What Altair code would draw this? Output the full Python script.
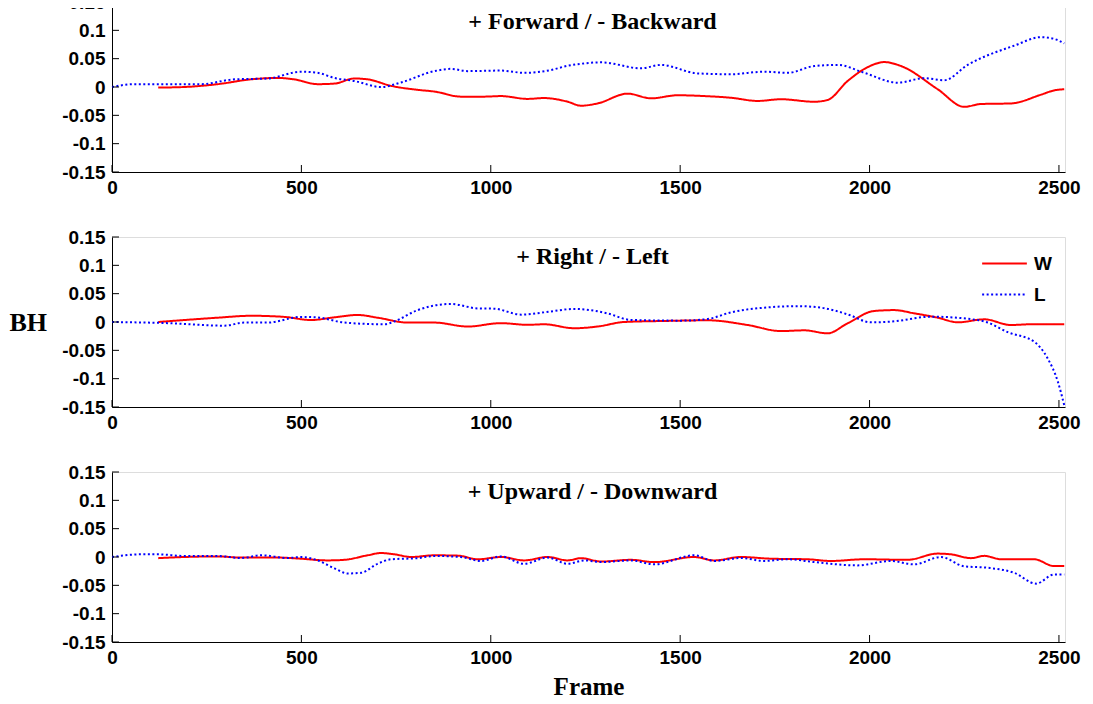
import altair as alt
import pandas as pd

SERIES = ["W", "L"]
COLORS = ["#ff0000", "#0000ff"]
PANEL_TITLES = ["+ Forward / - Backward", "+ Right / - Left", "+ Upward / - Downward"]
X_TICKS = [0, 500, 1000, 1500, 2000, 2500]
Y_TICKS = [-0.15, -0.1, -0.05, 0, 0.05, 0.1, 0.15]
X_MAX = 2516

# Panel 1: Forward / Backward
fb_w_x = [122, 191, 279, 367, 437, 481, 543, 587, 640, 675, 737, 807, 851, 921, 983, 1027, 1097, 1141, 1203, 1238,
          1282, 1361, 1423, 1493, 1573, 1634, 1705, 1766, 1854, 1889, 1942, 1995, 2039, 2083, 2180, 2250, 2294, 2373,
          2453, 2487, 2514]
fb_w_y = [-0.001, 0, 0.005, 0.0135, 0.016, 0.0135, 0.005, 0.006, 0.015, 0.0135, 0.002, -0.005, -0.008, -0.017,
          -0.017, -0.016, -0.021, -0.0195, -0.026, -0.033, -0.029, -0.0117, -0.020, -0.0146, -0.0163, -0.019,
          -0.0246, -0.0216, -0.026, -0.023, 0.0105, 0.035, 0.044, 0.037, -0.004, -0.035, -0.030, -0.029, -0.0135,
          -0.006, -0.004]
fb_l_x = [0, 59, 147, 235, 323, 411, 499, 543, 587, 640, 710, 763, 851, 895, 939, 1027, 1088, 1159, 1203, 1238,
          1291, 1397, 1449, 1546, 1634, 1722, 1784, 1854, 1916, 1986, 2074, 2144, 2197, 2259, 2382, 2453, 2487, 2514]
fb_l_y = [0, 0.005, 0.005, 0.005, 0.0135, 0.015, 0.027, 0.025, 0.016, 0.0105, 0, 0.008, 0.028, 0.032, 0.028,
          0.029, 0.025, 0.03, 0.0375, 0.041, 0.0435, 0.033, 0.039, 0.024, 0.0225, 0.027, 0.025, 0.037, 0.039,
          0.025, 0.0076, 0.0155, 0.012, 0.039, 0.073, 0.088, 0.085, 0.077]

# Panel 2: Right / Left
rl_w_x = [122, 191, 279, 367, 455, 525, 587, 649, 701, 781, 851, 939, 1027, 1097, 1141, 1220, 1282, 1352, 1458,
          1573, 1678, 1766, 1828, 1889, 1942, 2012, 2065, 2118, 2180, 2233, 2303, 2373, 2426, 2514]
rl_w_y = [0, 0.0035, 0.0076, 0.011, 0.009, 0.0035, 0.0082, 0.0124, 0.0076, -0.001, -0.001, -0.008, -0.002,
          -0.005, -0.004, -0.011, -0.008, 0, 0.0018, 0.003, -0.0053, -0.016, -0.0147, -0.02, -0.0023, 0.0194,
          0.021, 0.0153, 0.0076, -0.0006, 0.0047, -0.0053, -0.004, -0.004]
rl_l_x = [0, 147, 297, 349, 411, 499, 543, 613, 719, 745, 807, 895, 965, 1009, 1080, 1141, 1220, 1273, 1309,
          1370, 1502, 1573, 1634, 1722, 1810, 1872, 1942, 2004, 2056, 2162, 2285, 2312, 2365, 2435, 2470, 2497, 2514]
rl_l_y = [0, -0.002, -0.0065, -0.001, -0.001, 0.009, 0.008, -0.001, -0.004, 0.001, 0.021, 0.0318, 0.024, 0.0235,
          0.013, 0.017, 0.023, 0.020, 0.015, 0.0036, 0.0024, 0.0053, 0.017, 0.0253, 0.028, 0.0253, 0.0135,
          -0.0006, 0.0006, 0.0094, 0.0035, -0.001, -0.018, -0.035, -0.064, -0.105, -0.147]

# Panel 3: Upward / Downward
ud_w_x = [122, 191, 279, 341, 437, 499, 569, 613, 675, 710, 746, 790, 851, 913, 965, 1027, 1088, 1150, 1203, 1238,
          1291, 1370, 1432, 1537, 1590, 1660, 1740, 1836, 1898, 1986, 2100, 2180, 2215, 2268, 2303, 2347, 2435,
          2487, 2514]
ud_w_y = [-0.002, 0, 0.001, -0.001, -0.001, -0.003, -0.006, -0.005, 0.003, 0.007, 0.0047, 0, 0.003, 0.0024,
          -0.004, 0, -0.006, 0, -0.006, -0.002, -0.008, -0.005, -0.009, 0, -0.006, 0, -0.003, -0.004, -0.007,
          -0.004, -0.005, 0.006, 0.0047, -0.002, 0.002, -0.004, -0.004, -0.016, -0.016]
ud_l_x = [0, 77, 121, 191, 279, 341, 394, 464, 499, 543, 587, 622, 657, 701, 737, 807, 851, 921, 974, 1027,
          1088, 1150, 1203, 1247, 1291, 1370, 1432, 1537, 1590, 1660, 1722, 1784, 1854, 1968, 2056, 2118, 2188,
          2250, 2312, 2382, 2440, 2487, 2514]
ud_l_y = [0, 0.0047, 0.0047, 0.0018, 0.0018, -0.0018, 0.003, -0.0018, 0, -0.006, -0.02, -0.029, -0.028, -0.012,
          -0.004, -0.002, 0.0018, 0, -0.007, 0.001, -0.012, -0.001, -0.012, -0.006, -0.009, -0.006, -0.013, 0.003,
          -0.007, -0.0018, -0.007, -0.004, -0.009, -0.0148, -0.007, -0.013, 0, -0.0165, -0.019, -0.028, -0.047,
          -0.031, -0.031]

W, H = 953, 170
TICK_FONT = "Liberation Sans"
SERIF = "Liberation Serif"


def make_df(wx, wy, lx, ly):
    rows = [{"series": "W", "frame": x, "value": y, "order": i} for i, (x, y) in enumerate(zip(wx, wy))]
    rows += [{"series": "L", "frame": x, "value": y, "order": i} for i, (x, y) in enumerate(zip(lx, ly))]
    return pd.DataFrame(rows)


label_expr = "datum.value == 0 ? '0' : replace(format(datum.value, '.2~f'), '\u2212', '-')"


def panel(df, title, show_legend, show_bh, show_frame):
    legend = alt.Legend(
        orient="none", legendX=869, legendY=11, title=None, symbolType="stroke",
        symbolSize=2000, symbolStrokeWidth=2, labelFont=TICK_FONT, labelFontSize=19,
        labelFontWeight="bold", labelColor="black", rowPadding=0, labelOffset=6, clipHeight=31,
    ) if show_legend else None

    y_axis = alt.Axis(
        values=Y_TICKS, labelExpr=label_expr, ticks=False, grid=False, domainColor="black",
        labelFont=TICK_FONT, labelFontSize=19, labelFontWeight="bold", labelColor="black", labelPadding=7,
        labelOverlap=False, labelBound=False,
        title="BH" if show_bh else None, titleAngle=0, titleX=-103, titleY=H / 2, titleAlign="left",
        titleBaseline="middle", titleFont=SERIF, titleFontSize=26, titleFontWeight="bold", titleColor="black",
    )
    x_axis = alt.Axis(
        values=X_TICKS, format="d", ticks=False, grid=False, domainColor="black", labelFont=TICK_FONT,
        labelFontSize=19, labelFontWeight="bold", labelColor="black", labelPadding=6, labelFlush=False,
        labelOverlap=False,
        title="Frame" if show_frame else None, titleFont=SERIF, titleFontSize=25, titleFontWeight="bold",
        titleColor="black", titlePadding=7,
    )
    xs = alt.Scale(domain=[0, X_MAX], nice=False, zero=False)
    ys = alt.Scale(domain=[-0.15, 0.15], nice=False)

    lines = alt.Chart(df).mark_line(strokeWidth=2, interpolate="monotone").encode(
        x=alt.X("frame:Q", scale=xs, axis=x_axis),
        y=alt.Y("value:Q", scale=ys, axis=y_axis),
        color=alt.Color("series:N", scale=alt.Scale(domain=SERIES, range=COLORS), legend=legend),
        strokeDash=alt.StrokeDash("series:N", scale=alt.Scale(domain=SERIES, range=[[1, 0], [2, 2.5]]),
                                  legend=legend),
        order="order:Q",
    )
    xt = alt.Chart(pd.DataFrame({"t": X_TICKS})).mark_rule(color="black", strokeWidth=1).encode(
        x=alt.X("t:Q", scale=xs, axis=x_axis), y=alt.value(H), y2=alt.value(H - 7))
    yt = alt.Chart(pd.DataFrame({"t": Y_TICKS})).mark_rule(color="black", strokeWidth=1).encode(
        y=alt.Y("t:Q", scale=ys, axis=y_axis), x=alt.value(0), x2=alt.value(7))
    ttl = alt.Chart(pd.DataFrame({"t": [title]})).mark_text(
        font=SERIF, fontSize=24, fontWeight="bold", color="black", baseline="middle", align="center",
    ).encode(text="t:N", x=alt.value(W / 2 + 4), y=alt.value(20))
    return alt.layer(lines, xt, yt, ttl).properties(width=W, height=H)


p1 = panel(make_df(fb_w_x, fb_w_y, fb_l_x, fb_l_y), PANEL_TITLES[0], False, False, False)
p2 = panel(make_df(rl_w_x, rl_w_y, rl_l_x, rl_l_y), PANEL_TITLES[1], True, True, False)
p3 = panel(make_df(ud_w_x, ud_w_y, ud_l_x, ud_l_y), PANEL_TITLES[2], False, False, True)

chart = alt.vconcat(p1, p2, p3, spacing=65, bounds="flush").resolve_scale(
    color="independent", strokeDash="independent"
).resolve_legend(color="independent", strokeDash="independent").properties(
    padding={"left": 0, "top": -16, "right": 0, "bottom": 0}
).configure_view(strokeWidth=0).configure(background="white")

chart.save("out.html", embed_options={"renderer": "svg", "actions": False})
